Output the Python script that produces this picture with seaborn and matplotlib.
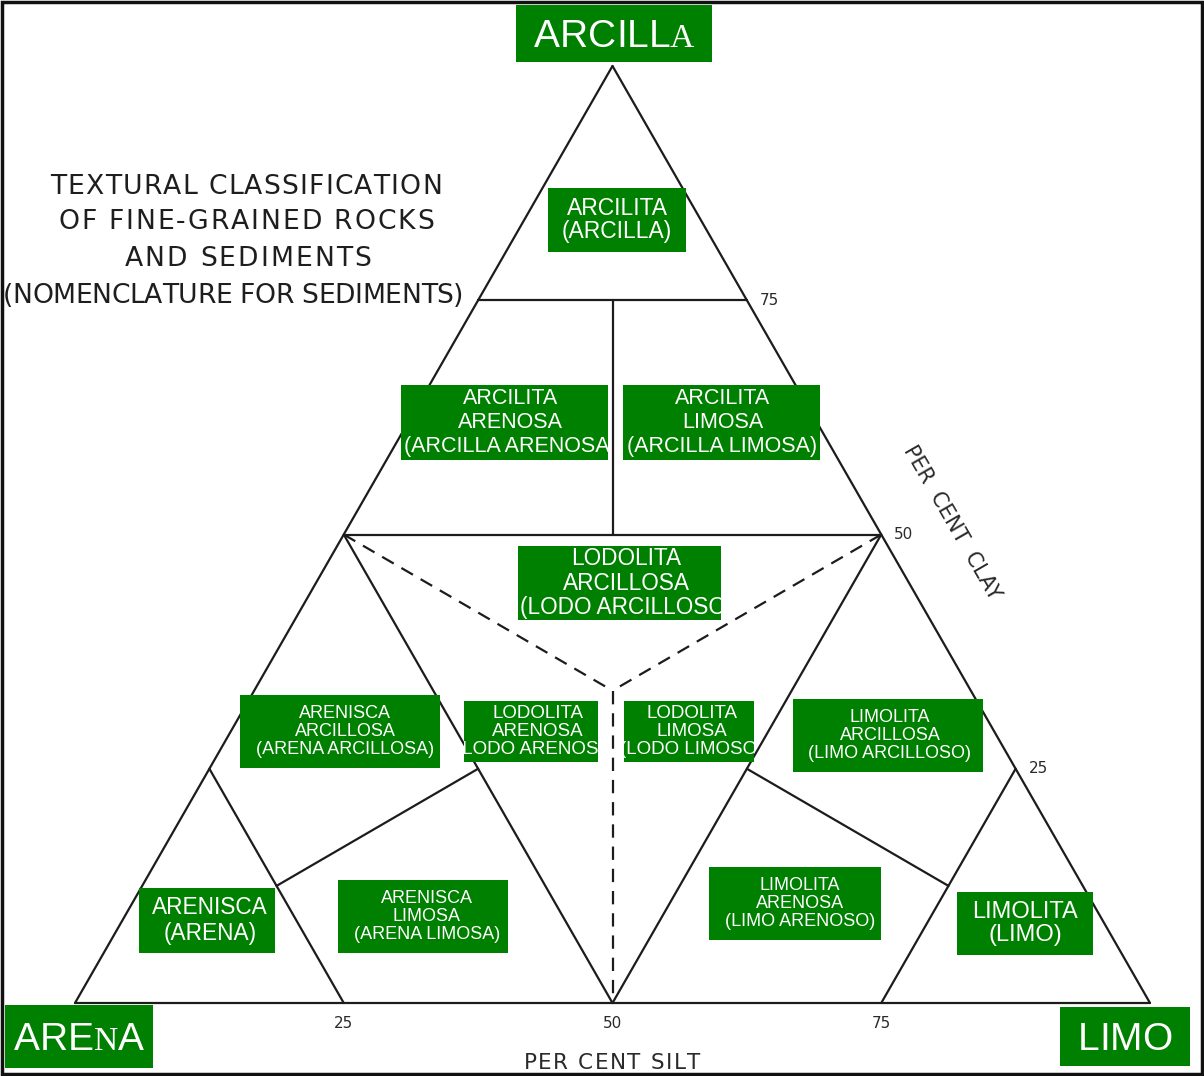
import numpy as np
import pandas as pd
import matplotlib.pyplot as plt
import seaborn as sns
from matplotlib.patches import Rectangle
from matplotlib.transforms import Bbox, TransformedBbox

# Boundary segments of the diagram, end points as (clay %, silt %)
solid_from = [(0, 0), (0, 100), (100, 0), (75, 0), (50, 0), (75, 12.5),
              (50, 0), (50, 50), (25, 0), (25, 75), (12.5, 12.5), (25, 50)]
solid_to = [(0, 100), (100, 0), (0, 0), (75, 25), (50, 50), (50, 25),
            (0, 50), (0, 50), (0, 25), (0, 75), (25, 25), (12.5, 75)]
dashed_from = [(50, 0), (50, 50), (100 / 3, 100 / 3)]
dashed_to = [(100 / 3, 100 / 3), (100 / 3, 100 / 3), (0, 50)]

clay_ticks = [75, 50, 25]
silt_ticks = [25, 50, 75]

corner_names = ['ARCILLA', 'ARENA', 'LIMO']
field_names = [
    'ARCILITA\n(ARCILLA)',
    'ARCILITA\nARENOSA\n(ARCILLA ARENOSA)',
    'ARCILITA\nLIMOSA\n(ARCILLA LIMOSA)',
    'LODOLITA\nARCILLOSA\n(LODO ARCILLOSO)',
    'ARENISCA\nARCILLOSA\n(ARENA ARCILLOSA)',
    'LODOLITA\nARENOSA\n(LODO ARENOSO)',
    'LODOLITA\nLIMOSA\n(LODO LIMOSO)',
    'LIMOLITA\nARCILLOSA\n(LIMO ARCILLOSO)',
    'ARENISCA\n(ARENA)',
    'ARENISCA\nLIMOSA\n(ARENA LIMOSA)',
    'LIMOLITA\nARENOSA\n(LIMO ARENOSO)',
    'LIMOLITA\n(LIMO)',
]
title_lines = ['TEXTURAL CLASSIFICATION', 'OF FINE-GRAINED ROCKS',
               'AND SEDIMENTS', '(NOMENCLATURE FOR SEDIMENTS)']

# layout (pixels): box left, top, right, bottom, font size, line spacing, text x shift
W, H = 1204, 1076
corner_boxes = [(516, 5, 712, 62), (5, 1005, 153, 1068), (1060, 1007, 1190, 1066)]
serif_letters = [[6], [3], []]  # letters the scan shows in a small serif face
field_boxes = [
    ((548, 188, 686, 252), 16.5, 1.02, 0), ((401, 385, 608, 460), 15.5, 1.18, 6),
    ((623, 385, 820, 460), 15.5, 1.18, 1), ((518, 546, 721, 620), 16.3, 1.1, 7),
    ((240, 695, 440, 768), 13, 1.07, 5), ((464, 701, 598, 762), 13.5, 1.07, 7),
    ((624, 701, 754, 762), 13.5, 1.07, 3), ((793, 699, 983, 772), 13, 1.07, 2),
    ((139, 888, 275, 953), 16.3, 1.2, 3), ((338, 880, 508, 953), 13, 1.07, 4),
    ((709, 867, 881, 940), 13, 1.07, 5), ((957, 892, 1093, 955), 17, 1.1, 0),
]
# title lines: centre x, centre y, target width
title_pos = [(246, 184, 392), (246, 219, 376), (248, 256, 247), (233, 293, 461)]
GREEN = '#008000'
INK = '#1e1e1e'


def to_xy(clay, silt):
    return (silt + clay / 2) / 100, clay / 100 * np.sqrt(3) / 2


rows = []
for kind, starts, ends in [('solid', solid_from, solid_to), ('dashed', dashed_from, dashed_to)]:
    for i, (a, b) in enumerate(zip(starts, ends)):
        for p in (a, b):
            x, y = to_xy(*p)
            rows.append({'x': x, 'y': y, 'seg': f'{kind}{i}', 'kind': kind})
segs = pd.DataFrame(rows)

sns.set_theme(style='white')
plt.rcParams['font.family'] = ['DejaVu Sans']

fig = plt.figure(figsize=(W / 100, H / 100), dpi=100)
ax = fig.add_axes([0, 0, 1, 1])
# triangle: base 75..1150 px wide, base at y=1003 px, apex near y=66 px
sx = 1075
sy = 937 / (np.sqrt(3) / 2)
ax.set_xlim(-75 / sx, (W - 75) / sx)
ax.set_ylim((1003 - H) / sy, 1003 / sy)
ax.axis('off')
renderer = fig.canvas.get_renderer()

sns.lineplot(data=segs, x='x', y='y', units='seg', estimator=None, sort=False,
             style='kind', dashes={'solid': '', 'dashed': (6, 4)},
             color='#1c1c1c', linewidth=1.6, legend=False, ax=ax)

# tick labels
for c in clay_ticks:
    x, y = to_xy(c, 100 - c)
    ax.text(x + 0.012, y, str(c), fontsize=11, color='#2a2a2a', ha='left', va='center')
for s in silt_ticks:
    x, y = to_xy(0, s)
    ax.text(x, y - 0.019, str(s), fontsize=11, color='#2a2a2a', ha='center', va='center')


def tracked_text(cx, cy, s, size, width, color=INK):
    # hand lettering is widely spaced: place letters one by one to reach the width
    cap = 0.729 * size * 100 / 72
    chars, ws = [], []
    for ch in s:
        t = ax.text(0, 1 - (cy + cap / 2) / H, ch, transform=ax.transAxes, fontsize=size,
                    color=color, ha='left', va='baseline')
        chars.append(t)
        ws.append(t.get_window_extent(renderer).width if ch != ' ' else size * 100 / 72 * 0.318)
    gap = (width - sum(ws)) / max(len(s) - 1, 1)
    x = cx - width / 2
    for t, w in zip(chars, ws):
        t.set_x(x / W)
        x += w + gap


for line, (tx, ty, tw) in zip(title_lines, title_pos):
    tracked_text(tx, ty, line, 19.2, tw)

tracked_text(612, 1061, 'PER CENT SILT', 15.5, 177, color='#2a2a2a')
ax.text(952 / W, 1 - 523 / H, 'PER  CENT  CLAY', transform=ax.transAxes,
        fontsize=15, color='#2a2a2a', ha='center', va='center', rotation=-60,
        rotation_mode='anchor')


def clip_to(txt, box):
    l, t, r, b = box
    txt.set_clip_on(True)
    txt.set_clip_box(TransformedBbox(Bbox.from_extents(l / W, 1 - b / H, r / W, 1 - t / H),
                                     ax.transAxes))


def green_rect(box):
    l, t, r, b = box
    ax.add_patch(Rectangle((l / W, 1 - b / H), (r - l) / W, (b - t) / H, transform=ax.transAxes,
                           facecolor=GREEN, edgecolor='none', zorder=3))


def green_box(box, label, size, linespacing, dx):
    l, t, r, b = box
    green_rect(box)
    txt = ax.text(((l + r) / 2 + dx) / W, 1 - (t + b) / 2 / H, label, transform=ax.transAxes,
                  fontsize=size, color='white', ha='center', va='center',
                  family='Liberation Sans', linespacing=linespacing, zorder=4)
    clip_to(txt, box)


def corner_box(box, label, serif_idx, size=28):
    l, t, r, b = box
    green_rect(box)
    # draw letter by letter so some can use a serif face, then centre the word
    base = (t + b) / 2 + 0.716 * size * 100 / 72 / 2
    texts, x = [], 0.0
    for i, ch in enumerate(label):
        serif = i in serif_idx
        txt = ax.text(0, 1 - base / H, ch, transform=ax.transAxes,
                      fontsize=size * 0.86 if serif else size, color='white',
                      family='Liberation Serif' if serif else 'Liberation Sans',
                      ha='left', va='baseline', zorder=4)
        w = txt.get_window_extent(renderer).width
        texts.append((txt, x))
        x += w
    x0 = (l + r) / 2 - x / 2
    for txt, dx in texts:
        txt.set_x((x0 + dx) / W)
        clip_to(txt, box)


for name, box, sidx in zip(corner_names, corner_boxes, serif_letters):
    corner_box(box, name, sidx)
for name, (box, size, ls, dx) in zip(field_names, field_boxes):
    green_box(box, name, size, ls, dx)

# scan frame
fig.add_artist(Rectangle((0.002, 0.002), 0.996, 0.996, transform=fig.transFigure,
                         fill=False, edgecolor='#111111', linewidth=2.5))

fig.savefig('out.png', dpi=100, facecolor='white')
